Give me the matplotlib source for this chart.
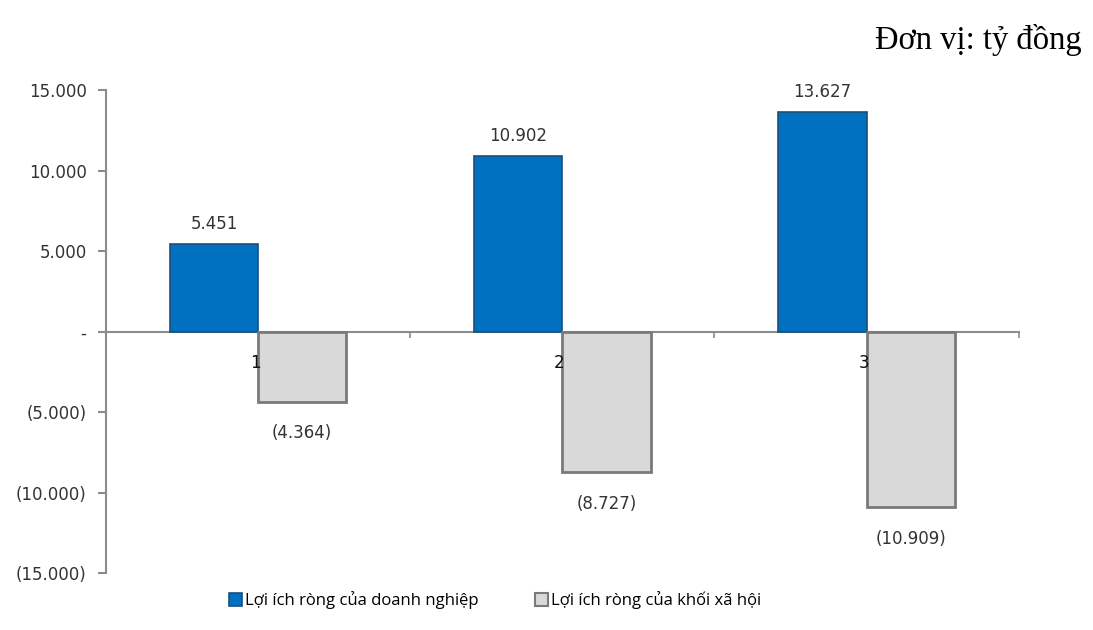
import matplotlib.pyplot as plt
from matplotlib.patches import Patch
from matplotlib.ticker import FixedLocator, NullFormatter

# Lợi ích ròng theo từng phương án (tỷ đồng)
categories = ["1", "2", "3"]
doanh_nghiep = [5451, 10902, 13627]
xa_hoi = [-4364, -8727, -10909]
series_names = ["Lợi ích ròng của doanh nghiệp", "Lợi ích ròng của khối xã hội"]
y_ticks = [-15000, -10000, -5000, 0, 5000, 10000, 15000]


def fmt_num(v):
    # kiểu Excel: dấu chấm phân cách nghìn, số âm trong ngoặc, 0 là "-"
    if v == 0:
        return "-"
    s = f"{abs(v):,.0f}".replace(",", ".")
    return f"({s})" if v < 0 else s


num_font = "DejaVu Sans"
leg_font = "Open Sans"
text_col = "#333333"
axis_col = "#8c8c8c"

fig = plt.figure(figsize=(10.93, 6.3), dpi=100)
ax = fig.add_axes([0.097, 0.090, 0.835, 0.767])

x = range(len(categories))
w = 0.29
bars1 = ax.bar([i - w / 2 for i in x], doanh_nghiep, w, color="#0070C0",
               edgecolor="#1F4E79", linewidth=1.2, zorder=3)
bars2 = ax.bar([i + w / 2 for i in x], xa_hoi, w, color="#D9D9D9",
               edgecolor="#7a7a7a", linewidth=2, zorder=3)

for b, v in zip(bars1, doanh_nghiep):
    ax.text(b.get_x() + b.get_width() / 2, v + 1250, fmt_num(v), ha="center",
            va="center", fontsize=12, color=text_col, family=num_font)
for b, v in zip(bars2, xa_hoi):
    ax.text(b.get_x() + b.get_width() / 2, v - 1950, fmt_num(v), ha="center",
            va="center", fontsize=12, color=text_col, family=num_font)

# nhãn nhóm nằm ngay dưới trục hoành
for i, c in enumerate(categories):
    ax.text(i - 0.01, -1950, c, ha="center", va="center", fontsize=12,
            color="#111111", family=num_font, zorder=4)

ax.set_xlim(-0.5, len(categories) - 0.5)
ax.set_ylim(-15000, 15000)
ax.set_yticks(y_ticks)
ax.set_yticklabels([fmt_num(t) for t in y_ticks], family=num_font,
                   fontsize=12, color=text_col)
ax.tick_params(axis="y", length=6, width=1.5, color=axis_col, pad=8)

# trục hoành đi qua 0, vạch chia ở ranh giới nhóm
for s in ["top", "right"]:
    ax.spines[s].set_visible(False)
ax.spines["left"].set_color(axis_col)
ax.spines["left"].set_linewidth(1.5)
ax.spines["bottom"].set_position(("data", 0))
ax.spines["bottom"].set_color(axis_col)
ax.spines["bottom"].set_linewidth(1.5)
ax.spines["bottom"].set_zorder(2)
ax.xaxis.set_major_locator(FixedLocator([-0.5, 0.5, 1.5, 2.5]))
ax.xaxis.set_major_formatter(NullFormatter())
ax.tick_params(axis="x", length=4, width=1.2, color=axis_col, direction="out")

handles = [Patch(facecolor="#0070C0", edgecolor="#1F4E79", linewidth=1.2),
           Patch(facecolor="#D9D9D9", edgecolor="#7a7a7a", linewidth=1.5)]
fig.legend(handles, series_names, loc="center", bbox_to_anchor=(0.453, 0.047),
           ncol=2, frameon=False, handlelength=0.75, handleheight=0.75,
           handletextpad=0.2, columnspacing=3.4,
           prop={"family": leg_font, "size": 12})

fig.text(0.99, 0.937, "Đơn vị: tỷ đồng", ha="right", va="center",
         family="Liberation Serif", fontsize=23.5, color="black")

fig.savefig("out.png", dpi=100)
